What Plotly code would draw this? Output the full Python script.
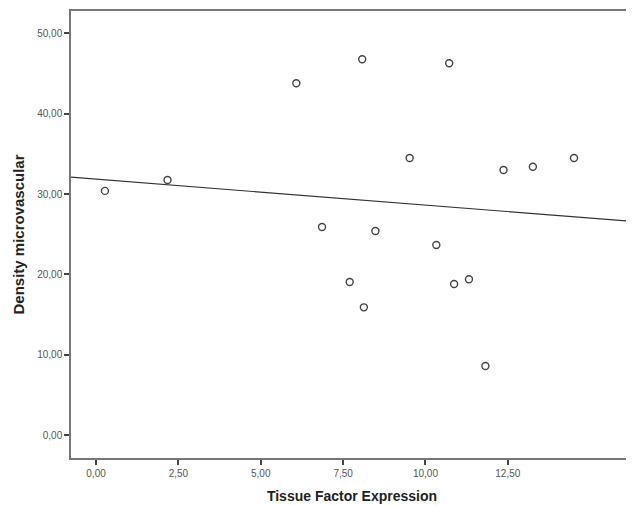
import plotly.graph_objects as go

# Data
tissue_factor = [0.27, 2.17, 6.08, 6.86, 8.08, 10.72, 9.52, 12.37, 13.26, 14.51,
                 8.48, 10.33, 7.70, 8.13, 10.87, 11.32, 11.82]
density_micro = [30.4, 31.75, 43.8, 25.9, 46.8, 46.3, 34.5, 33.0, 33.4, 34.5,
                 25.4, 23.66, 19.05, 15.9, 18.8, 19.4, 8.6]

# Linear fit line
fit_intercept = 31.86
fit_slope = -0.323

x_range = [-0.76, 16.3]
y_range = [-2.86, 52.8]

x_tickvals = [0, 2.5, 5, 7.5, 10, 12.5]
x_ticktext = ["0,00", "2,50", "5,00", "7,50", "10,00", "12,50"]
y_tickvals = [0, 10, 20, 30, 40, 50]
y_ticktext = ["0,00", "10,00", "20,00", "30,00", "40,00", "50,00"]

fit_x = x_range
fit_y = [fit_intercept + fit_slope * v for v in fit_x]

fig = go.Figure()
fig.add_trace(go.Scatter(
    x=fit_x, y=fit_y, mode="lines",
    line=dict(color="#333333", width=1.2),
    showlegend=False, hoverinfo="skip",
))
fig.add_trace(go.Scatter(
    x=tissue_factor, y=density_micro, mode="markers",
    marker=dict(symbol="circle-open", size=7, color="#444444",
                line=dict(width=1.4, color="#444444")),
    showlegend=False,
))

axis_common = dict(
    showline=True, linecolor="#777777", linewidth=1.5, mirror=True,
    ticks="outside", ticklen=5, tickwidth=1.5, tickcolor="#444444",
    showgrid=False, zeroline=False,
    tickfont=dict(family="Liberation Sans, Arial, sans-serif", size=10, color="#555555"),
)

fig.update_xaxes(
    range=x_range, tickvals=x_tickvals, ticktext=x_ticktext,
    title=dict(text="<b>Tissue Factor Expression</b>", standoff=13,
               font=dict(family="Liberation Sans, Arial, sans-serif", size=14, color="#222222")),
    **axis_common,
)
fig.update_yaxes(
    range=y_range, tickvals=y_tickvals, ticktext=y_ticktext,
    title=dict(text="<b>Density microvascular</b>", standoff=9,
               font=dict(family="Liberation Sans, Arial, sans-serif", size=15, color="#222222")),
    **axis_common,
)

# page has an 8px body margin, so the figure is sized to fit the 634x506 window
fig.update_layout(
    width=626, height=498,
    margin=dict(l=63, r=1, t=3, b=48, autoexpand=False),
    paper_bgcolor="white", plot_bgcolor="white",
)

fig.write_html("out.html")
